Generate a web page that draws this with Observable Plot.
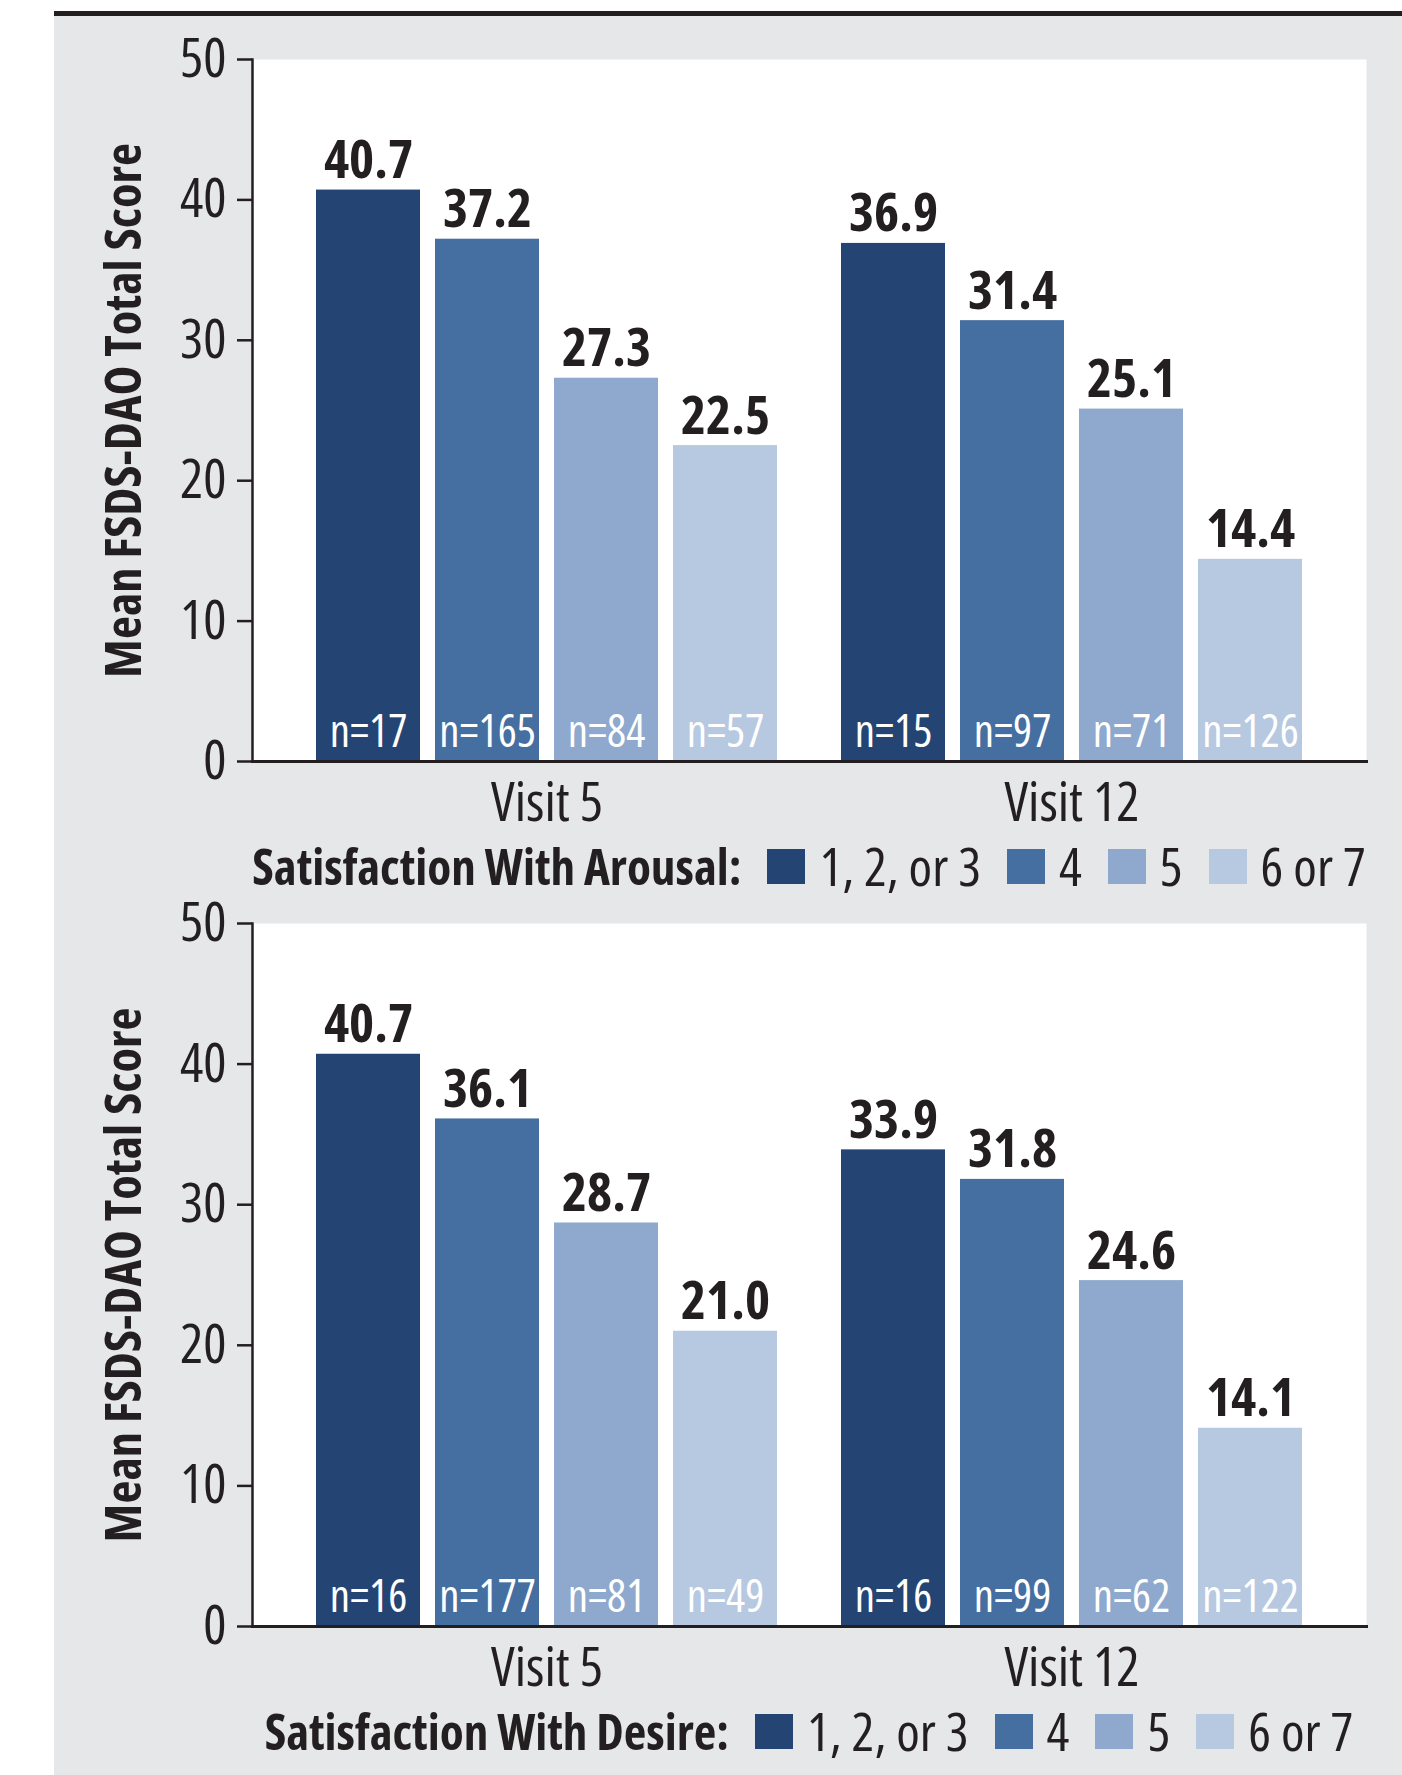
<!DOCTYPE html>
<html>
<head>
<meta charset="utf-8">
<script src="https://cdn.jsdelivr.net/npm/d3@7"></script>
<script src="https://cdn.jsdelivr.net/npm/@observablehq/plot@0.6"></script>
<style>
html, body { margin: 0; padding: 0; background: #fff; overflow: hidden; }
body { width: 1402px; height: 1775px; position: relative; color: #231f20; }
#bg { position: absolute; left: 54px; top: 16px; width: 1348px; height: 1759px; background: #e6e7e9; }
#topline { position: absolute; left: 54px; top: 11px; width: 1348px; height: 5px; background: #231f20; }
#chart { position: absolute; left: 0; top: 0; width: 1402px; }
#chart svg { display: block; }
.legend { display: flex; align-items: center; justify-content: center; margin-left: 251px; width: 1116px;
  height: 48px; line-height: 48px; white-space: nowrap; position: relative; top: -3px; }
.legend .title { font-weight: bold; margin-right: 26px; }
.legend .sw { width: 38px; height: 35px; margin-right: 14px; flex: none; }
.legend .lab { margin-right: 26px; }
.legend .lab:last-child { margin-right: 0; }
</style>
</head>
<body>
<div id="bg"></div>
<div id="topline"></div>
<div id="chart"></div>
<script>
const visits = ["Visit 5", "Visit 12"];
const categories = ["1, 2, or 3", "4", "5", "6 or 7"];
const colors = ["#244573", "#456ea1", "#8ea9cd", "#b7c8e1"];
const yTicks = [0, 10, 20, 30, 40, 50];
const yLabel = "Mean FSDS-DAO Total Score";

const arousalTitle = "Satisfaction With Arousal:";
const arousalVisit5 = [40.7, 37.2, 27.3, 22.5];
const arousalVisit12 = [36.9, 31.4, 25.1, 14.4];
const arousalNVisit5 = [17, 165, 84, 57];
const arousalNVisit12 = [15, 97, 71, 126];

const desireTitle = "Satisfaction With Desire:";
const desireVisit5 = [40.7, 36.1, 28.7, 21.0];
const desireVisit12 = [33.9, 31.8, 24.6, 14.1];
const desireNVisit5 = [16, 177, 81, 49];
const desireNVisit12 = [16, 99, 62, 122];

// ---- pick the installed face closest to the reference's condensed type
function measure(family, stretch) {
  const s = document.createElement("span");
  s.style.cssText = `position:absolute;visibility:hidden;white-space:nowrap;font-size:100px;` +
    `font-family:${family};font-stretch:${stretch};`;
  s.textContent = "Visit 5";
  document.body.appendChild(s);
  const w = s.getBoundingClientRect().width;
  s.remove();
  return w;
}
const candidates = [
  ["Liberation Sans Narrow", "normal"],
  ["Arial Narrow", "normal"],
  ["Noto Sans", "extra-condensed"],
  ["Noto Sans", "condensed"],
  ["Noto Sans", "semi-condensed"],
  ["Roboto", "condensed"],
  ["Open Sans", "condensed"],
  ["DejaVu Sans Condensed", "normal"]
];
const targetEm = 2.24;
const monoW = measure("monospace", "normal");
let best = {family: "'DejaVu Sans Condensed', sans-serif", stretch: "normal", em: 2.8};
for (const [fam, stretch] of candidates) {
  const w = measure(`'${fam}', monospace`, stretch);
  if (Math.abs(w - monoW) < 0.5) continue;
  const em = w / 100;
  if (Math.abs(em - targetEm) < Math.abs(best.em - targetEm)) best = {family: `'${fam}', sans-serif`, stretch, em};
}
const FONT = best.family;
const STRETCH = best.stretch;
const k = Math.max(0.82, Math.min(1.12, targetEm / best.em));
const fs = v => Math.round(v * k * 10) / 10;
document.body.style.fontFamily = FONT;
document.body.style.fontStretch = STRETCH;

// ---- layout
const W = 1402, ML = 251, MR = 35;
const fxPadInner = 0.1179, fxPadOuter = 0.1198;
// distance between the plot's left edge and the first facet (band scale outer padding)
const fxStep = (W - ML - MR) / (visits.length - fxPadInner + 2 * fxPadOuter);
const axisShift = fxPadOuter * fxStep;

function rows(v5, v12, n5, n12) {
  return [[v5, n5], [v12, n12]].flatMap(([vals, ns], i) =>
    categories.map((c, j) => ({visit: visits[i], cat: c, value: vals[j], n: ns[j]})));
}

function panel(data, height, marginTop) {
  return Plot.plot({
    width: W, height, marginTop, marginBottom: 84, marginLeft: ML, marginRight: MR,
    style: `background: transparent; font-family: ${FONT}; font-stretch: ${STRETCH}; color: #231f20; overflow: visible;`,
    fx: {domain: visits, paddingInner: fxPadInner, paddingOuter: fxPadOuter, label: null},
    x: {domain: categories, paddingInner: 0.125, paddingOuter: 0, axis: null},
    y: {domain: [0, 50], nice: false},
    color: {domain: categories, range: colors},
    marks: [
      Plot.frame({facet: "super", fill: "white", stroke: "none", insetLeft: -axisShift, insetRight: -axisShift}),
      Plot.barY(data, {fx: "visit", x: "cat", y: "value", fill: "cat"}),
      Plot.text(data, {fx: "visit", x: "cat", y: "value", text: d => d.value.toFixed(1),
        lineAnchor: "bottom", dy: -12, fontSize: fs(49), fontWeight: "bold", fill: "#231f20"}),
      Plot.text(data, {fx: "visit", x: "cat", text: d => `n=${d.n}`, frameAnchor: "bottom",
        lineAnchor: "bottom", dy: -15, fontSize: fs(41), fill: "white"}),
      Plot.frame({facet: "super", anchor: "bottom", stroke: "#231f20", strokeWidth: 3,
        insetLeft: -axisShift, insetRight: -axisShift}),
      Plot.frame({facet: "super", anchor: "left", stroke: "#231f20", strokeWidth: 2.5, insetLeft: -axisShift}),
      Plot.axisY({ticks: yTicks, tickSize: 15, tickPadding: 11, fontSize: fs(50),
        label: null, strokeWidth: 2.5, dx: -axisShift}),
      Plot.axisY({ticks: [], tickSize: 0, label: yLabel, labelAnchor: "center", labelArrow: "none",
        labelOffset: 147 + axisShift, fontSize: fs(46), fontWeight: "bold"}),
      Plot.axisFx({anchor: "bottom", tickSize: 0, tickPadding: 21, fontSize: fs(50), label: null})
    ]
  });
}

function legend(title) {
  const div = document.createElement("div");
  div.className = "legend";
  div.style.fontSize = fs(49) + "px";
  const t = document.createElement("span");
  t.className = "title";
  t.style.fontSize = fs(45) + "px";
  t.textContent = title;
  div.appendChild(t);
  categories.forEach((c, i) => {
    const sw = document.createElement("span");
    sw.className = "sw";
    sw.style.background = colors[i];
    div.appendChild(sw);
    const lab = document.createElement("span");
    lab.className = "lab";
    lab.textContent = c;
    div.appendChild(lab);
  });
  return div;
}

const chart = document.getElementById("chart");
chart.appendChild(panel(rows(arousalVisit5, arousalVisit12, arousalNVisit5, arousalNVisit12), 845, 59));
chart.appendChild(legend(arousalTitle));
chart.appendChild(panel(rows(desireVisit5, desireVisit12, desireNVisit5, desireNVisit12), 817, 30));
chart.appendChild(legend(desireTitle));
</script>
</body>
</html>
